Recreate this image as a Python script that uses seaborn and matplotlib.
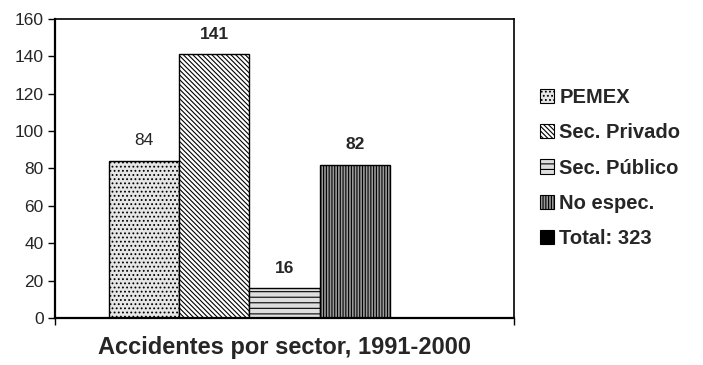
import matplotlib
matplotlib.use("Agg")
import matplotlib.pyplot as plt
from matplotlib.patches import Patch
import numpy as np
import pandas as pd
import seaborn as sns

# Accident counts by sector, 1991-2000
sectors = ["PEMEX", "Sec. Privado", "Sec. Público", "No espec.", "Total"]
counts = [84, 141, 16, 82, np.nan]   # the total is only reported in the legend
total = 323
legend_labels = ["PEMEX", "Sec. Privado", "Sec. Público", "No espec.", f"Total: {total}"]
y_ticks = [0, 20, 40, 60, 80, 100, 120, 140, 160]
title = "Accidentes por sector, 1991-2000"

sns.set_theme(style="white")
plt.rcParams["font.family"] = ["Liberation Sans", "DejaVu Sans"]
plt.rcParams["hatch.linewidth"] = 0.8

# fill, hatch and label weight per sector
styles = {
    "PEMEX":        dict(facecolor="#e6e6e6", hatch="...."),
    "Sec. Privado": dict(facecolor="#ffffff", hatch="\\" * 7),
    "Sec. Público": dict(facecolor="#dedede", hatch="-" * 3),
    "No espec.":    dict(facecolor="#9a9a9a", hatch="|" * 6),
    "Total":        dict(facecolor="#000000", hatch=None),
}
label_weight = {"PEMEX": "normal", "Sec. Privado": "bold",
                "Sec. Público": "bold", "No espec.": "bold"}

df = pd.DataFrame({"sector": sectors, "accidentes": counts})

fig = plt.figure(figsize=(7.03, 3.65), dpi=100)
ax = fig.add_axes([0.0782, 0.129, 0.653, 0.819])

sns.barplot(data=df, x="sector", y="accidentes", order=sectors, width=1.0,
            color="white", edgecolor="black", linewidth=1.0, ax=ax)

for patch in ax.patches:
    idx = int(round(patch.get_x() + patch.get_width() / 2))
    st = styles[sectors[idx]]
    patch.set_facecolor(st["facecolor"])
    if st["hatch"]:
        patch.set_hatch(st["hatch"])
    patch.set_edgecolor("black")

for container in ax.containers:
    texts = ax.bar_label(container, fmt="%d", padding=9, fontsize=12.5)
    for patch, txt in zip(container.patches, texts):
        idx = int(round(patch.get_x() + patch.get_width() / 2))
        txt.set_fontweight(label_weight.get(sectors[idx], "bold"))

ax.set_ylim(0, 160)
ax.set_yticks(y_ticks)
ax.set_yticklabels([str(v) for v in y_ticks], fontsize=12.5)
ax.set_xlim(-1.27, 5.27)
ax.set_xticks([-1.27, 5.27])
ax.set_xticklabels(["", ""])
ax.tick_params(axis="both", direction="out", length=5, width=1.0, color="black",
               left=True, bottom=True, pad=3)
ax.set_ylabel("")
ax.set_xlabel(title, fontsize=17, fontweight="bold", labelpad=5)

for side in ["left", "bottom", "top", "right"]:
    ax.spines[side].set_visible(True)
    ax.spines[side].set_color("black")
    ax.spines[side].set_linewidth(1.2)
ax.spines["left"].set_linewidth(1.6)
ax.spines["bottom"].set_linewidth(1.6)

handles = []
for name in sectors:
    st = styles[name]
    handles.append(Patch(facecolor=st["facecolor"], edgecolor="black",
                         hatch=st["hatch"], linewidth=0.8))
fig.legend(handles, legend_labels, loc="upper left", bbox_to_anchor=(0.757, 0.78),
           frameon=False, prop={"weight": "bold", "size": 14.5},
           handlelength=0.7, handleheight=0.7, handletextpad=0.25,
           labelspacing=0.8, borderaxespad=0)

fig.savefig("out.png", dpi=100)
